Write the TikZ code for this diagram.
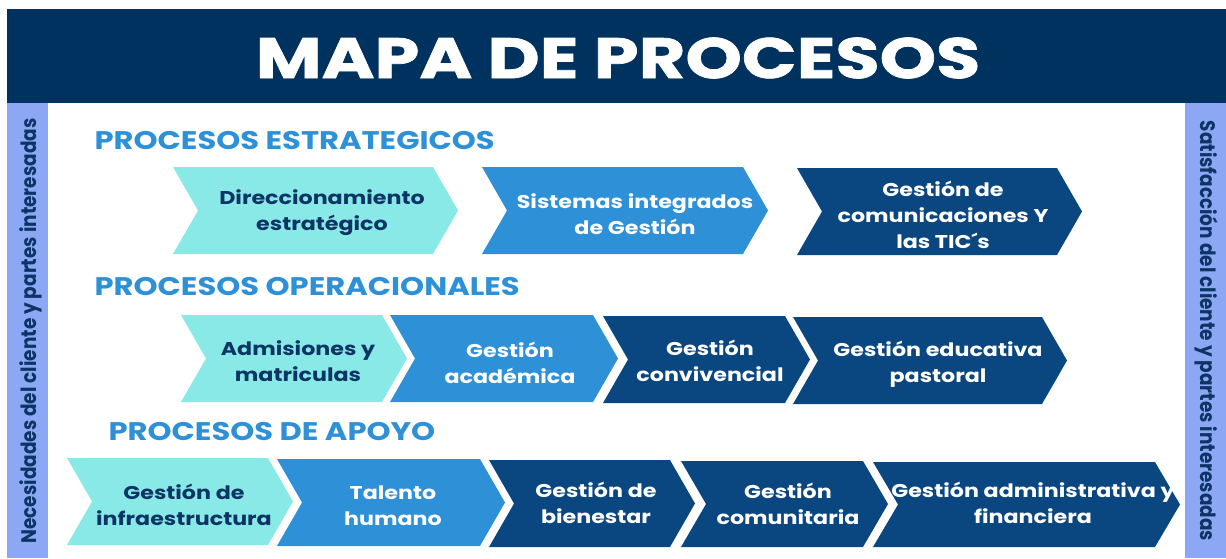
\documentclass[tikz,border=0pt]{standalone}
\usepackage{fontspec}
\setmainfont{Poppins}
\newfontfamily\titlefont{Poppins}[FakeStretch=1.26,FakeBold=1.2]
\newfontfamily\widefont{Poppins}[FakeStretch=1.2]
\newfontfamily\narrowfont{Poppins}[FakeStretch=0.88]
\definecolor{navyHead}{RGB}{0,50,95}
\definecolor{procCyan}{RGB}{137,233,231}
\definecolor{procBlue}{RGB}{46,144,214}
\definecolor{procDark}{RGB}{10,70,128}
\definecolor{procText}{RGB}{12,52,100}
\definecolor{sideBar}{RGB}{140,168,245}
\begin{document}
\begin{tikzpicture}[x=1pt,y=-1pt,
  darklabel/.style={text=procText,font=\widefont\bfseries\fontsize{18.5}{26}\selectfont,align=center},
  lightlabel/.style={text=white,font=\widefont\bfseries\fontsize{18.5}{26}\selectfont,align=center},
  headlabel/.style={text=procBlue,font=\widefont\bfseries\fontsize{25.5}{26}\selectfont,anchor=west},
  sidelabel/.style={text=procText,font=\narrowfont\bfseries\fontsize{21}{21}\selectfont}]
\useasboundingbox (0,0) rectangle (1226,558);

% Header band
\fill[navyHead] (7,9) rectangle (1226,103);
\node[text=white,font=\titlefont\bfseries\fontsize{57}{57}\selectfont] (title) at (618,58) {MAPA DE PROCESOS};

% Side bars
\fill[sideBar] (7,103) rectangle (48,558); % input side
\fill[sideBar] (1185,103) rectangle (1226,558); % output side
\node[sidelabel,rotate=90] (needs) at (31,331) {Necesidades del cliente y partes interesadas};
\node[sidelabel,rotate=-90] (satisf) at (1206,331) {Satisfacción del cliente y partes interesadas};

% Strategic processes
\node[headlabel] (hstrat) at (91,141) {PROCESOS ESTRATEGICOS};
\fill[procCyan] (173,167) -- (433,167) -- (458,210.5) -- (433,254) -- (173,254) -- (198,210.5) -- cycle;
\fill[procBlue] (482,167) -- (743,167) -- (768,210.5) -- (743,254) -- (482,254) -- (507,210.5) -- cycle;
\fill[procDark] (797,168) -- (1057,168) -- (1082,211.5) -- (1057,255) -- (797,255) -- (822,211.5) -- cycle;
\node[darklabel] (direcc) at (322,213) {Direccionamiento\\estratégico};
\node[lightlabel] (sig) at (635,214) {Sistemas integrados\\de Gestión};
\node[lightlabel] (tic) at (943,215) {Gestión de\\comunicaciones Y\\las TIC´s};

% Operational processes
\node[headlabel] (hoper) at (91,287) {PROCESOS OPERACIONALES};
\fill[procCyan] (181,315) -- (382,315) -- (407,358.5) -- (382,402) -- (181,402) -- (206,358.5) -- cycle;
\fill[procBlue] (390,315) -- (593,315) -- (618,358.5) -- (593,402) -- (390,402) -- (415,358.5) -- cycle;
\fill[procDark] (603,316) -- (785,316) -- (810,359.5) -- (785,403) -- (603,403) -- (628,359.5) -- cycle;
\fill[procDark] (793,317) -- (1042,317) -- (1067,360.5) -- (1042,404) -- (793,404) -- (818,360.5) -- cycle;
\node[darklabel] (admis) at (298,361) {Admisiones y\\matriculas};
\node[lightlabel] (acad) at (510,363) {Gestión\\académica};
\node[lightlabel] (conviv) at (710,361) {Gestión\\convivencial};
\node[lightlabel] (pastoral) at (938,364) {Gestión educativa\\pastoral};

% Support processes
\node[headlabel] (hapoyo) at (105,432) {PROCESOS DE APOYO};
\fill[procCyan] (67,458) -- (268,458) -- (293,501.5) -- (268,545) -- (67,545) -- (92,501.5) -- cycle;
\fill[procBlue] (277,459) -- (480,459) -- (505,502.5) -- (480,546) -- (277,546) -- (302,502.5) -- cycle;
\fill[procDark] (489,460) -- (670,460) -- (695,503.5) -- (670,547) -- (489,547) -- (514,503.5) -- cycle;
\fill[procDark] (681,461) -- (863,461) -- (888,504) -- (863,547) -- (681,547) -- (706,504) -- cycle;
\fill[procDark] (873,462) -- (1155,462) -- (1180,504.5) -- (1155,547) -- (873,547) -- (898,504.5) -- cycle;
\node[darklabel] (infra) at (184,505) {Gestión de\\infraestructura};
\node[lightlabel] (talento) at (393,506) {Talento\\humano};
\node[lightlabel] (bienestar) at (596,503) {Gestión de\\bienestar};
\node[lightlabel] (comun) at (788,504) {Gestión\\comunitaria};
\node[lightlabel] (admin) at (1033,503) {Gestión administrativa y\\financiera};
\end{tikzpicture}
\end{document}
